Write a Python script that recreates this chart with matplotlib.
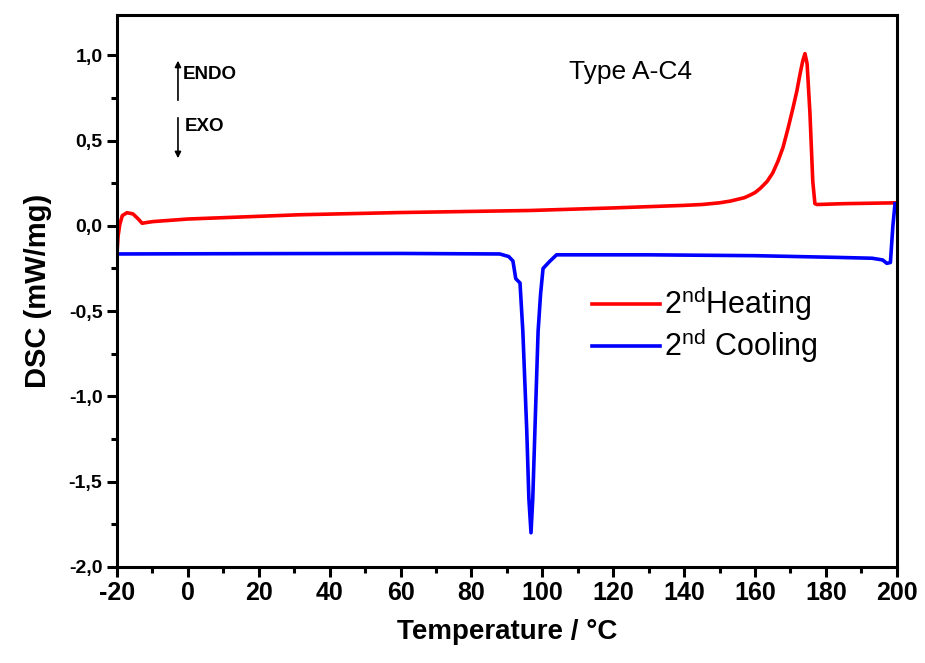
import matplotlib.pyplot as plt
from matplotlib.ticker import MultipleLocator, FuncFormatter

plt.rcParams['font.family'] = ['Liberation Sans', 'DejaVu Sans']
plt.rcParams['axes.unicode_minus'] = False
plt.rcParams['mathtext.fontset'] = 'custom'
plt.rcParams['mathtext.rm'] = 'Liberation Sans'

# 2nd heating (red), temperature / DSC
heat_t = [-20, -19.7, -19.2, -18.5, -17.2, -15.5, -14, -12.9, -11.5, -9.8, 0, 31.6, 60, 96.5,
          120, 140, 145, 150, 153, 155, 157, 158.6, 160, 161.5, 163.4, 165, 166.5, 167.9,
          169.3, 170.7, 171.8, 172.7, 173.5, 174.1, 174.7, 175.5, 176.3, 176.9, 177.5, 185, 200]
heat_y = [-0.16, -0.06, 0.01, 0.06, 0.077, 0.07, 0.04, 0.015, 0.02, 0.025, 0.04, 0.065, 0.078, 0.09,
          0.105, 0.12, 0.125, 0.135, 0.145, 0.155, 0.165, 0.18, 0.195, 0.22, 0.26, 0.31, 0.38, 0.46,
          0.57, 0.69, 0.79, 0.89, 0.97, 1.01, 0.95, 0.66, 0.26, 0.13, 0.125, 0.13, 0.135]

# 2nd cooling (blue)
cool_t = [-20, 20, 60, 88, 90.5, 91.7, 92.5, 93.7, 94.5, 95.6, 96.2, 96.8, 97.3, 97.9, 98.8,
          99.5, 100.2, 102, 104, 130, 160, 183, 193, 196, 197.2, 198.2, 198.9, 199.5]
cool_y = [-0.165, -0.163, -0.162, -0.165, -0.18, -0.206, -0.31, -0.335, -0.62, -1.2, -1.6, -1.8,
          -1.6, -1.2, -0.62, -0.4, -0.25, -0.21, -0.17, -0.17, -0.175, -0.185, -0.19, -0.2,
          -0.22, -0.215, 0.0, 0.13]

fig = plt.figure(figsize=(9.25, 6.63), dpi=100)
ax = fig.add_axes([0.1265, 0.145, 0.843, 0.832])

ax.plot(heat_t, heat_y, color='#ff0000', lw=2.6, label='2$^{\\mathrm{nd}}$Heating')
ax.plot(cool_t, cool_y, color='#0000ff', lw=2.6, label='2$^{\\mathrm{nd}}$ Cooling')

ax.set_xlim(-20, 200)
ax.set_ylim(-2.0, 1.235)
ax.xaxis.set_major_locator(MultipleLocator(20))
ax.xaxis.set_minor_locator(MultipleLocator(10))
ax.yaxis.set_major_locator(MultipleLocator(0.5))
ax.yaxis.set_minor_locator(MultipleLocator(0.25))
ax.yaxis.set_major_formatter(FuncFormatter(lambda v, p: ('%.1f' % v).replace('.', ',')))

for s in ax.spines.values():
    s.set_linewidth(2.2)
ax.tick_params(which='major', direction='out', length=7, width=2.2)
ax.tick_params(which='minor', direction='out', length=4, width=2.2)
ax.tick_params(axis='x', labelsize=18)
ax.tick_params(axis='y', labelsize=14)
for lab in ax.get_xticklabels() + ax.get_yticklabels():
    lab.set_fontweight('bold')

ax.set_xlabel('Temperature / °C', fontsize=20, fontweight='bold', labelpad=10)
ax.set_ylabel('DSC (mW/mg)', fontsize=21, fontweight='bold', labelpad=12)

ax.text(107.5, 0.86, 'Type A-C4', fontsize=19)

ax.annotate('', xy=(-2.8, 0.985), xytext=(-2.8, 0.72),
            arrowprops=dict(arrowstyle='-|>', color='black', lw=1.2, mutation_scale=9))
ax.annotate('', xy=(-2.8, 0.38), xytext=(-2.8, 0.65),
            arrowprops=dict(arrowstyle='-|>', color='black', lw=1.2, mutation_scale=9))
ax.text(-1.5, 0.89, 'ENDO', fontsize=13.5, fontweight='bold', va='center')
ax.text(-0.8, 0.58, 'EXO', fontsize=13.5, fontweight='bold', va='center')

ax.legend(loc='upper left', bbox_to_anchor=(0.59, 0.54), frameon=False, fontsize=22,
          handlelength=2.2, handletextpad=0.15, labelspacing=0.1, borderpad=0)

fig.savefig('out.png', dpi=100)
